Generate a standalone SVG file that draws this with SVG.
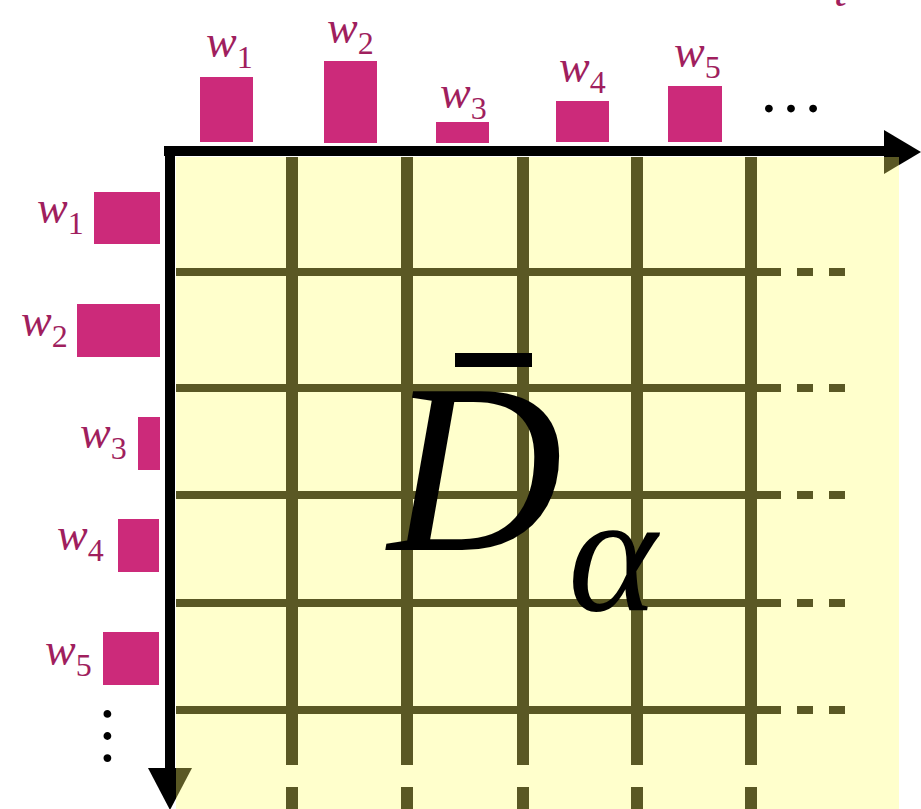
<svg xmlns="http://www.w3.org/2000/svg" width="921" height="809" viewBox="0 0 921 809">
<style>
.bar{fill:#cc2a7a}
.lbl{font-family:"Liberation Serif","Times New Roman",serif;font-size:46px;font-style:italic;fill:#a01f5e}
.sub{font-style:normal;font-size:32px}
.grid{stroke:#5a5824;fill:none}
.vg{stroke-width:12}
.hg{stroke-width:8}
.axis{stroke:#000;stroke-width:10;fill:none}
.big{font-family:"Liberation Serif","Times New Roman",serif;font-style:italic;fill:#000}
.dots{font-family:"Liberation Serif","Times New Roman",serif;font-size:66px;fill:#000}
</style>
<defs>
<clipPath id="yc"><rect x="176" y="157" width="723" height="660"/></clipPath>
</defs>
<rect width="921" height="809" fill="#fff"/>
<g id="connectors">
<line class="axis" x1="164" y1="151" x2="888" y2="151"/>
<polygon id="arrowRight" points="884,130 921,152 884,174" fill="#000"/>
<line class="axis" x1="170" y1="146" x2="170" y2="772"/>
<polygon id="arrowDown" points="148,768 192,768 170,810" fill="#000"/>
</g>
<g id="matrix">
<rect x="176" y="157" width="723" height="660" fill="#ffffcc"/>
<g clip-path="url(#yc)" fill="#5a5824">
<polygon points="884,130 921,152 884,174"/>
<polygon points="148,768 192,768 170,810"/>
</g>
<g class="grid hg">
<path d="M176 272H781M797 272H813M829 272H845"/>
<path d="M176 388H781M797 388H813M829 388H845"/>
<path d="M176 495H781M797 495H813M829 495H845"/>
<path d="M176 603H781M797 603H813M829 603H845"/>
<path d="M176 710H781M797 710H813M829 710H845"/>
</g>
<g class="grid vg">
<path d="M292 157V765M292 787V809"/>
<path d="M407 157V765M407 787V809"/>
<path d="M523 157V765M523 787V809"/>
<path d="M637 157V765M637 787V809"/>
<path d="M751 157V765M751 787V809"/>
</g>
<rect x="455" y="353" width="77" height="14" fill="#000"/>
<text class="big" x="388" y="550" font-size="242">D</text>
<text class="big" x="568" y="610" font-size="170">α</text>
</g>
<g id="top-weights">
<g id="top-w1"><rect class="bar" x="200" y="77" width="53" height="65"/><text class="lbl" x="206" y="57">w<tspan class="sub" dy="11">1</tspan></text></g>
<g id="top-w2"><rect class="bar" x="324" y="61" width="53" height="82"/><text class="lbl" x="327" y="43">w<tspan class="sub" dy="11">2</tspan></text></g>
<g id="top-w3"><rect class="bar" x="436" y="122" width="53" height="21"/><text class="lbl" x="440" y="108">w<tspan class="sub" dy="11">3</tspan></text></g>
<g id="top-w4"><rect class="bar" x="556" y="101" width="53" height="41"/><text class="lbl" x="559" y="82">w<tspan class="sub" dy="11">4</tspan></text></g>
<g id="top-w5"><rect class="bar" x="668" y="86" width="54" height="56"/><text class="lbl" x="674" y="67">w<tspan class="sub" dy="11">5</tspan></text></g>
<text id="top-dots" class="dots" x="758" y="112">…</text>
<text id="top-axis-label" class="lbl" x="834" y="6">t</text>
</g>
<g id="left-weights">
<g id="left-w1"><rect class="bar" x="94" y="192" width="66" height="52"/><text class="lbl" x="37" y="223">w<tspan class="sub" dy="11">1</tspan></text></g>
<g id="left-w2"><rect class="bar" x="77" y="304" width="83" height="53"/><text class="lbl" x="21" y="336">w<tspan class="sub" dy="11">2</tspan></text></g>
<g id="left-w3"><rect class="bar" x="138" y="417" width="22" height="53"/><text class="lbl" x="80" y="448">w<tspan class="sub" dy="11">3</tspan></text></g>
<g id="left-w4"><rect class="bar" x="118" y="519" width="41" height="53"/><text class="lbl" x="57" y="550">w<tspan class="sub" dy="11">4</tspan></text></g>
<g id="left-w5"><rect class="bar" x="103" y="632" width="56" height="53"/><text class="lbl" x="45" y="665">w<tspan class="sub" dy="11">5</tspan></text></g>
<text id="left-dots" class="dots" x="0" y="0" text-anchor="middle" transform="translate(104 736) rotate(90)">…</text>
</g>
</svg>
